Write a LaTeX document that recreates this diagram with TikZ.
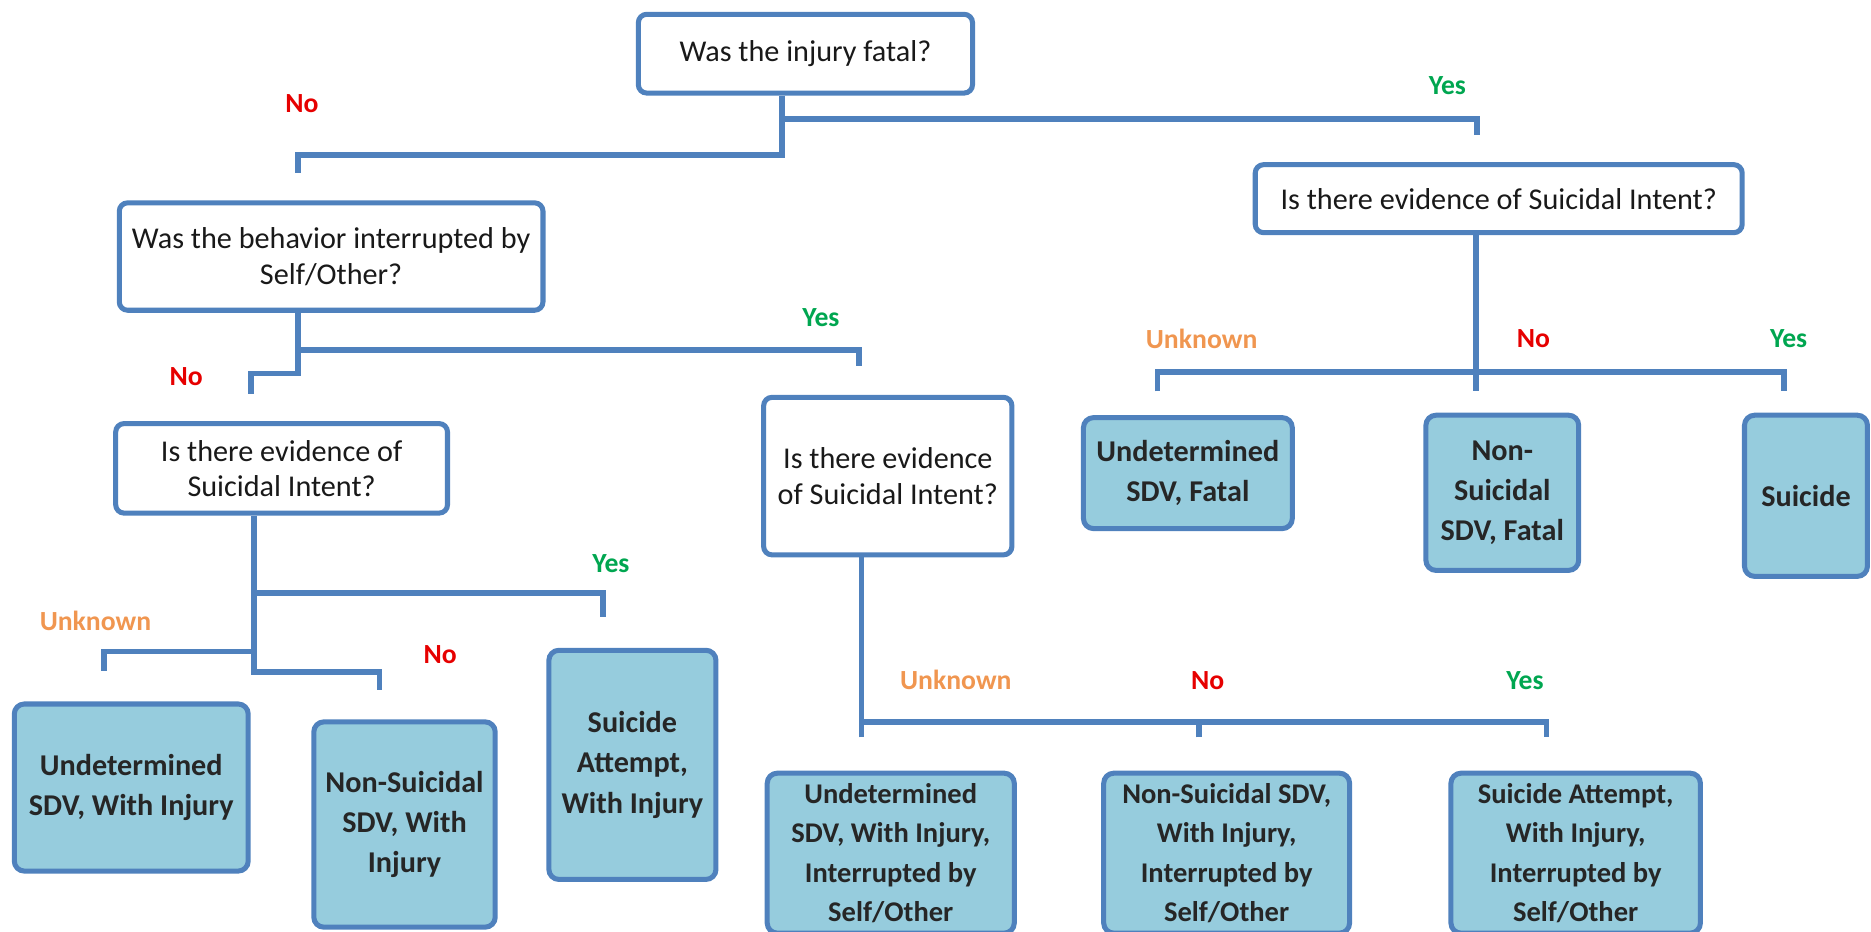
\documentclass[tikz,border=0pt]{standalone}
\usepackage{fontspec}
\setmainfont{Carlito}
\usetikzlibrary{positioning}
\definecolor{linkblue}{RGB}{79,129,189}
\definecolor{boxfill}{RGB}{150,204,221}
\definecolor{ansorange}{RGB}{240,150,80}
\definecolor{ansred}{RGB}{230,0,0}
\definecolor{ansgreen}{RGB}{0,166,80}

\begin{document}
\begin{tikzpicture}[x=0.025cm, y=-0.025cm,
  question/.style={draw=linkblue, line width=3pt, rounded corners=5pt, fill=white, align=center, inner sep=2pt, text=black!90, font=\fontsize{18}{21}\selectfont},
  outcome/.style={draw=linkblue, line width=3pt, rounded corners=6pt, fill=boxfill, align=center, inner sep=2pt, text=black!85, font=\bfseries\fontsize{18}{24}\selectfont},
  lowoutcome/.style={outcome, font=\bfseries\fontsize{17}{23.5}\selectfont},
  answer/.style={font=\bfseries\fontsize{16.5}{20}\selectfont},
  link/.style={draw=linkblue, line width=3.5pt}]
  \useasboundingbox (0,0) rectangle (1568,781);

  \node[question, minimum width=7cm, minimum height=1.65cm] (Q1) at (675,45) {Was the injury fatal?};
  \node[question, minimum width=8.875cm, minimum height=2.25cm] (Q2) at (277.5,215) {Was the behavior interrupted by\\Self/Other?};
  \node[question, minimum width=10.2cm, minimum height=1.425cm] (Q3) at (1256,166.5) {Is there evidence of Suicidal Intent?};
  \node[question, minimum width=6.95cm, minimum height=1.875cm] (Q4) at (236,392.5) {Is there evidence of\\Suicidal Intent?};
  \node[question, minimum width=5.2cm, minimum height=3.3cm] (Q5) at (744,399) {Is there evidence\\of Suicidal Intent?};

  \node[outcome, minimum width=4.375cm, minimum height=2.325cm] (R1) at (995.5,396.5) {Undetermined\\SDV, Fatal};
  \node[outcome, minimum width=3.2cm, minimum height=3.25cm] (R2) at (1259,413) {Non-\\Suicidal\\SDV, Fatal};
  \node[outcome, minimum width=2.575cm, minimum height=3.375cm] (R3) at (1513.5,415.5) {Suicide};
  \node[outcome, minimum width=4.9cm, minimum height=3.5cm] (R4) at (110,660) {Undetermined\\SDV, With Injury};
  \node[outcome, minimum width=3.8cm, minimum height=4.3cm] (R5) at (339,691) {Non-Suicidal\\SDV, With\\Injury};
  \node[outcome, minimum width=3.5cm, minimum height=4.8cm] (R6) at (530,641) {Suicide\\Attempt,\\With Injury};
  \node[lowoutcome, minimum width=5.175cm, minimum height=3.35cm] (R7) at (746.5,715) {Undetermined\\SDV, With Injury,\\Interrupted by\\Self/Other};
  \node[lowoutcome, minimum width=5.15cm, minimum height=3.35cm] (R8) at (1028,715) {Non-Suicidal SDV,\\With Injury,\\Interrupted by\\Self/Other};
  \node[lowoutcome, minimum width=5.225cm, minimum height=3.35cm] (R9) at (1320.5,715) {Suicide Attempt,\\With Injury,\\Interrupted by\\Self/Other};

  \node[answer, text=ansred] (A1) at (253,87) {No};
  \node[answer, text=ansgreen] (A2) at (1213,72) {Yes};
  \node[answer, text=ansgreen] (A3) at (688,266) {Yes};
  \node[answer, text=ansred] (A4) at (156,316) {No};
  \node[answer, text=ansorange] (A5) at (1007,284) {Unknown};
  \node[answer, text=ansred] (A6) at (1285,284) {No};
  \node[answer, text=ansgreen] (A7) at (1499,284) {Yes};
  \node[answer, text=ansgreen] (A8) at (512,472) {Yes};
  \node[answer, text=ansorange] (A9) at (80,520) {Unknown};
  \node[answer, text=ansred] (A10) at (369,549) {No};
  \node[answer, text=ansorange] (A11) at (801,570) {Unknown};
  \node[answer, text=ansred] (A12) at (1012,570) {No};
  \node[answer, text=ansgreen] (A13) at (1278,570) {Yes};

  \coordinate (T1) at (655,130);
  \coordinate (J1) at (655,100);
  \coordinate (E1) at (250,145);
  \coordinate (E2) at (1238,113);
  \path[link] (Q1.south -| T1) -- (T1) -| (E1);
  \path[link] (J1) -| (E2);

  \coordinate (E3) at (970,328);
  \coordinate (E4) at (1237,328);
  \coordinate (E5) at (1495,328);
  \path[link] (Q3.south -| E4) -- (E4);
  \path[link] (E3) -- ++(0,-16) -| (E5);

  \coordinate (T2) at (250,313);
  \coordinate (J2) at (250,293);
  \coordinate (E6) at (720,307);
  \coordinate (E7) at (210,330);
  \path[link] (Q2.south -| T2) -- (T2) -| (E7);
  \path[link] (J2) -| (E6);

  \coordinate (T4) at (213,563);
  \coordinate (J4) at (213,497);
  \coordinate (K4) at (213,546);
  \coordinate (E8) at (505,517);
  \coordinate (E9) at (87,562);
  \coordinate (E10) at (318,578);
  \path[link] (Q4.south -| T4) -- (T4) -| (E10);
  \path[link] (J4) -| (E8);
  \path[link] (K4) -| (E9);

  \coordinate (E11) at (722,618);
  \coordinate (E12) at (1005,618);
  \coordinate (E13) at (1296,618);
  \path[link] (Q5.south -| E11) -- (E11);
  \path[link] (E11) -- ++(0,-13) -| (E13);
  \path[link] (E12) -- ++(0,-13);
\end{tikzpicture}
\end{document}
